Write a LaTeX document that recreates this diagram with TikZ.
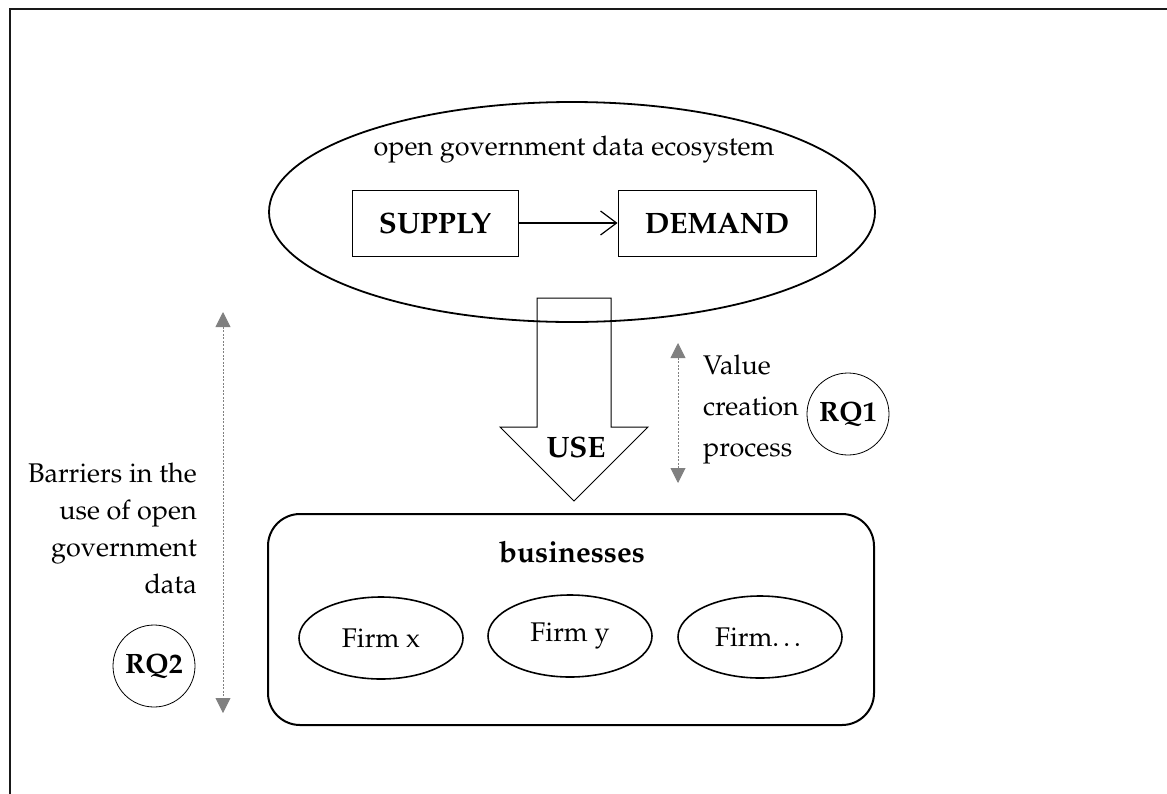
\documentclass[tikz,border=0pt]{standalone}
\usepackage[T1]{fontenc}
\usepackage{mathpazo}
\usepackage{xcolor}
\definecolor{Gris}{RGB}{128,128,128}
\definecolor{Cadre}{RGB}{25,25,25}
\usepackage{pgf,tikz}
\usetikzlibrary{shapes,arrows.meta,calc,positioning}

\begin{document}
\begin{tikzpicture}[x=1pt,y=-1pt,
  every node/.style={font=\fontsize{27}{33}\selectfont},
  gras/.style={font=\fontsize{29.5}{35}\selectfont\bfseries},
  boite/.style={draw,line width=1pt,minimum height=66pt,gras},
  firme/.style={draw,ellipse,line width=1.6pt,minimum width=164pt,minimum height=82pt},
  rq/.style={draw,circle,line width=0.8pt,minimum size=82pt,inner sep=0pt,font=\fontsize{28}{33}\selectfont\bfseries},
  fleche/.style={draw=Gris,dash pattern=on 2pt off 1.5pt,line width=0.9pt,{Triangle[length=15pt,width=15pt]}-{Triangle[length=15pt,width=15pt]}}]
  \useasboundingbox (0,0) rectangle (1167,793);
  \begin{scope}
    \clip (0,0) rectangle (1167,793);
    \draw[Cadre,line width=2.2pt] (10,9) rectangle (1200,830);
  \end{scope}
  % ecosystem
  \node[draw,ellipse,line width=1.8pt,minimum width=606pt,minimum height=220pt] (eco) at (572,212) {};
  \node (titre) at (574,150) {open government data ecosystem};
  \node[boite,minimum width=166pt] (supply) at (435,223) {SUPPLY};
  \node[boite,minimum width=198pt] (demand) at (717,223) {DEMAND};
  \draw[line width=1.2pt,-{Straight Barb[length=16pt,width=24pt]}] (supply) -- (demand);
  % use arrow
  \draw[line width=1pt] (537,298) -- (611,298) -- (611,427) -- (648,427) -- (574,501) -- (500,427) -- (537,427) -- cycle;
  \node[gras] (use) at (576,447) {USE};
  % businesses
  \node[draw,rounded corners=32pt,line width=2pt,minimum width=606pt,minimum height=211pt] (biz) at (571,619.5) {};
  \node[gras] (bizt) at (572,552) {businesses};
  \node[firme] (fx) at (381,638) {Firm x};
  \node[firme] (fy) at (570,636) {Firm y};
  \node[firme] (fz) at (760,637) {Firm\dots};
  % value creation
  \coordinate (v1) at (678,343);
  \coordinate (v2) at (678,483);
  \draw[fleche] (v1) -- (v2);
  \node[align=left,anchor=west,inner sep=0pt,font=\fontsize{27}{41}\selectfont] (valeur) at (703,410) {Value\\creation\\process};
  \node[rq] (rq1) at (848,414) {RQ1};
  % barriers
  \coordinate (b1) at (223,312);
  \coordinate (b2) at (223,713);
  \draw[fleche] (b1) -- (b2);
  \node[align=right,anchor=east,inner sep=0pt,font=\fontsize{27}{37}\selectfont] (barr) at (197,528) {Barriers in the\\use of open\\government\\data};
  \node[rq] (rq2) at (154,666) {RQ2};
\end{tikzpicture}
\end{document}
